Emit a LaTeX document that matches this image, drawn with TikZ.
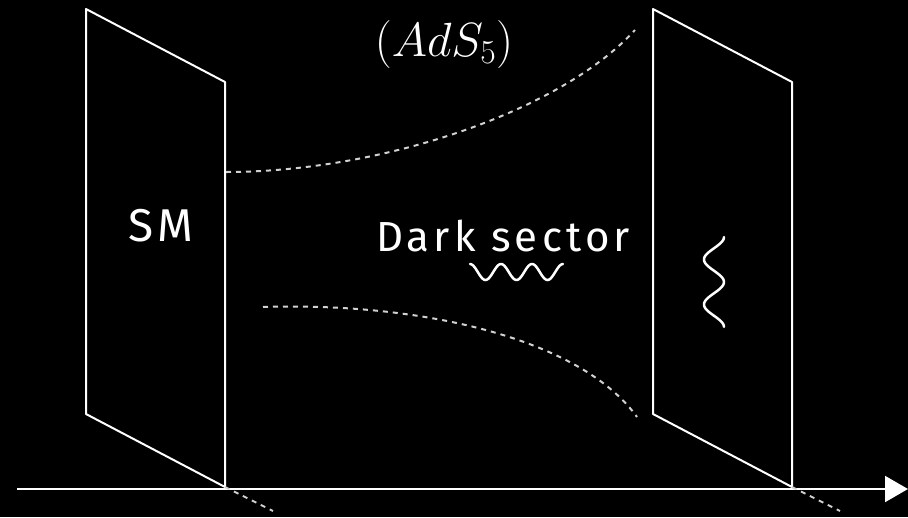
\documentclass[tikz,border=0pt]{standalone}
\usepackage{fix-cm}
\usepackage{fontspec}
\newfontfamily\handfont[LetterSpace=10]{Fira Sans}
\usetikzlibrary{arrows.meta}

\begin{document}
\begin{tikzpicture}[x=1pt,y=-1pt,line width=2pt,
    every node/.style={text=white,inner sep=0pt},
    brane/.style={draw=white,line join=round},
    bulk/.style={draw=white!82!black,dash pattern=on 5pt off 5pt},
    wiggle/.style={draw=white,line width=2.5pt,line cap=round},
    hand/.style={font=\handfont\fontsize{42}{42}\selectfont}]
    \fill[black] (0,0) rectangle (908,517);
    \useasboundingbox (0,0) rectangle (908,517);
    % branes
    \coordinate (uvA) at (86,9);   \coordinate (uvB) at (225,82);
    \coordinate (uvC) at (225,487); \coordinate (uvD) at (86,414);
    \coordinate (irA) at (653,9);  \coordinate (irB) at (792,82);
    \coordinate (irC) at (792,487); \coordinate (irD) at (653,414);
    \draw[brane] (uvA) -- (uvB) -- (uvC) -- (uvD) -- cycle;
    \draw[brane] (irA) -- (irB) -- (irC) -- (irD) -- cycle;
    % axis
    \coordinate (ax0) at (17,489);
    \coordinate (ax1) at (908,489);
    \draw[white,-{Triangle[length=23pt,width=26pt]}] (ax0) -- (ax1);
    \coordinate (uvE) at (273,511);
    \coordinate (irE) at (840,511);
    \draw[bulk] (uvC) -- (uvE);
    \draw[bulk] (irC) -- (irE);
    % bulk profile
    \coordinate (upL) at (226,172); \coordinate (upR) at (635,30);
    \coordinate (loL) at (263,307); \coordinate (loR) at (637,417);
    \draw[bulk] (upL) .. controls (380,172) and (560,112) .. (upR);
    \draw[bulk] (loL) .. controls (420,302) and (580,338) .. (loR);
    % labels
    \node[hand,font=\handfont\fontsize{46}{46}\selectfont] (sm) at (161,226) {SM};
    \node[hand] (dark) at (503,236) {Dark sector};
    \node[font=\fontsize{48}{48}\selectfont] (ads) at (444,44) {$(AdS_5)$};
    % fields
    \draw[wiggle,domain=0:1,samples=80,smooth]
        plot ({470+93*\x},{272-8*cos(1080*\x)});
    \draw[wiggle,domain=0:1,samples=80,smooth]
        plot ({714+10*cos(720*\x)},{237+90*\x});
\end{tikzpicture}
\end{document}
